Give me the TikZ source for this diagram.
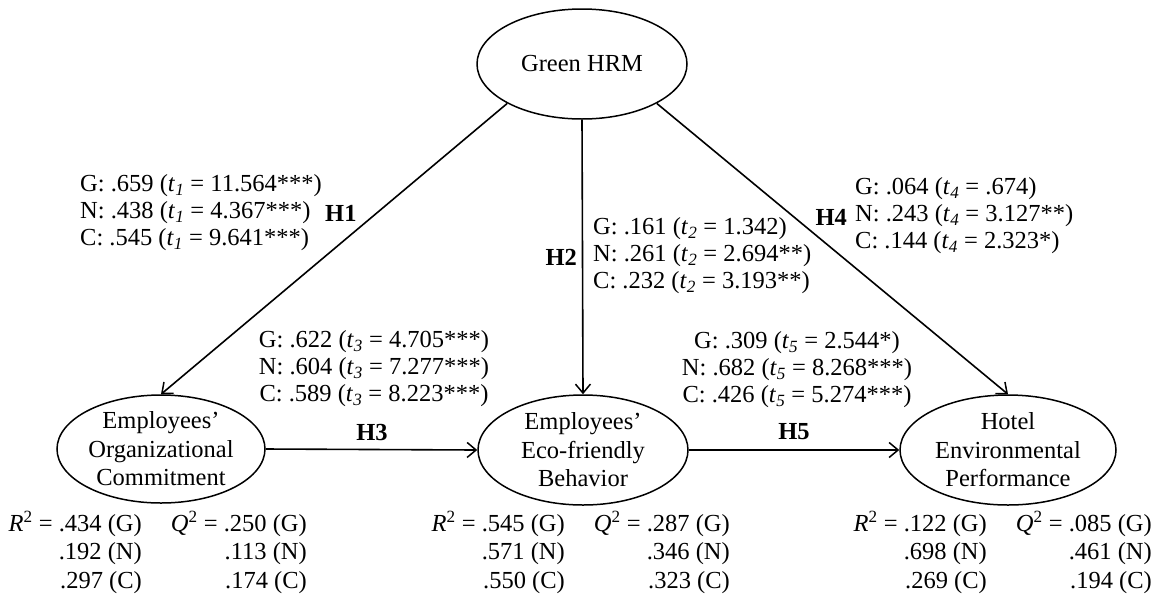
\documentclass[tikz,border=0pt]{standalone}
\usepackage{fontspec}
\setmainfont{Liberation Serif}
\usetikzlibrary{arrows.meta,shapes.geometric}
\newcommand{\tsub}[1]{\textit{t}\textsubscript{\textit{#1}}}
\begin{document}
\begin{tikzpicture}[x=1pt,y=-1pt,
  every node/.style={font=\fontsize{24.5}{27}\selectfont, inner sep=0pt},
  construct/.style={ellipse, draw, line width=1.5pt, align=center, inner sep=0pt,
    font=\fontsize{24.5}{28.5}\selectfont},
  path/.style={line width=1.6pt, -{Straight Barb[length=9pt,width=15pt,line width=1.5pt]}},
  coef/.style={align=left},
  coefc/.style={align=center},
  hyp/.style={font=\fontsize{24.5}{27}\selectfont\bfseries},
  stat/.style={align=right, anchor=east, font=\fontsize{24.5}{28.5}\selectfont}]
\useasboundingbox (0,0) rectangle (1158,598);
\node[construct, minimum width=210pt, minimum height=110pt] (g) at (582,64) {Green HRM};
\node[construct, minimum width=208pt, minimum height=108pt] (c) at (161,449) {Employees'\\Organizational\\Commitment};
\node[construct, minimum width=210pt, minimum height=110pt] (e) at (583,450) {Employees'\\Eco-friendly\\Behavior};
\node[construct, minimum width=216pt, minimum height=110pt] (h) at (1008,450) {Hotel\\Environmental\\Performance};

\draw[path] (g.south west) -- (c.north);
\draw[path] (g.south) -- (e.north);
\draw[path] (g.south east) -- (h.north);
\draw[path] (c.east) -- (e.west);
\draw[path] (e.east) -- (h.west);

\node[coef, anchor=west] (t1) at (80,213) {G: .659 (\tsub{1} = 11.564***)\\N: .438 (\tsub{1} = 4.367***)\\C: .545 (\tsub{1} = 9.641***)};
\node[hyp, anchor=west] (h1) at (325,213) {H1};
\node[coef, anchor=west] (t2) at (593,256) {G: .161 (\tsub{2} = 1.342)\\N: .261 (\tsub{2} = 2.694**)\\C: .232 (\tsub{2} = 3.193**)};
\node[hyp, anchor=east] (h2) at (577,257) {H2};
\node[coef, anchor=west] (t4) at (855,216) {G: .064 (\tsub{4} = .674)\\N: .243 (\tsub{4} = 3.127**)\\C: .144 (\tsub{4} = 2.323*)};
\node[hyp, anchor=east] (h4) at (847,217) {H4};
\node[coefc] (t3) at (374,369) {G: .622 (\tsub{3} = 4.705***)\\N: .604 (\tsub{3} = 7.277***)\\C: .589 (\tsub{3} = 8.223***)};
\node[hyp] (h3) at (372,432) {H3};
\node[coefc] (t5) at (797,370) {G: .309 (\tsub{5} = 2.544*)\\N: .682 (\tsub{5} = 8.268***)\\C: .426 (\tsub{5} = 5.274***)};
\node[hyp] (h5) at (794,432) {H5};

\node[stat] (rc) at (142,552) {\textit{R}\textsuperscript{2} = .434 (G)\\.192 (N)\\.297 (C)};
\node[stat] (qc) at (307,552) {\textit{Q}\textsuperscript{2} = .250 (G)\\.113 (N)\\.174 (C)};
\node[stat] (re) at (565,552) {\textit{R}\textsuperscript{2} = .545 (G)\\.571 (N)\\.550 (C)};
\node[stat] (qe) at (730,552) {\textit{Q}\textsuperscript{2} = .287 (G)\\.346 (N)\\.323 (C)};
\node[stat] (rh) at (987,552) {\textit{R}\textsuperscript{2} = .122 (G)\\.698 (N)\\.269 (C)};
\node[stat] (qh) at (1152,552) {\textit{Q}\textsuperscript{2} = .085 (G)\\.461 (N)\\.194 (C)};
\end{tikzpicture}
\end{document}
